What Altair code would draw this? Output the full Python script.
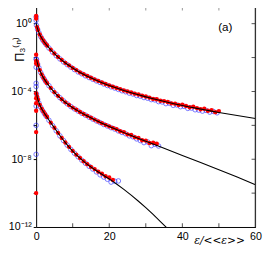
import altair as alt
import pandas as pd

# ---------- data (y stored as log10 values) ----------
# points sitting on the epsilon = 0 column
red0_log = [0.46, 0.3, -1.83, -2.2, -2.35, -4.11, -4.4, -4.69, -5.14, -6.4, -10.0]
blue0_log = [0.4, 0.2, -2.1, -2.57, -3.52, -3.71, -4.86, -6.0, -7.71]

# curve 1 (top)
red1_x = [0.25, 0.5, 1, 1.5, 2, 2.5, 3, 4, 5, 6, 7, 8, 9, 10, 11, 12, 13, 14, 15, 16, 17, 18,
          19, 20, 21, 22, 23, 24, 25, 26, 27, 28, 29, 30, 31, 32, 33, 34, 35, 36, 37, 38, 39,
          40, 41, 42, 43, 44, 45, 46, 47, 48, 49, 50]
red1_log = [-0.2, -0.37, -0.64, -0.84, -1.01, -1.16, -1.29, -1.54, -1.76, -1.96, -2.14, -2.31,
            -2.46, -2.61, -2.74, -2.87, -2.98, -3.09, -3.19, -3.29, -3.38, -3.47, -3.56, -3.64,
            -3.72, -3.79, -3.86, -3.94, -4.0, -4.06, -4.13, -4.18, -4.25, -4.3, -4.36, -4.44,
            -4.46, -4.55, -4.57, -4.62, -4.7, -4.72, -4.8, -4.78, -4.86, -4.93, -4.9, -4.98,
            -5.05, -5.02, -5.14, -5.1, -5.22, -5.16]
blue1_x = [0.1, 0.4, 0.75, 1.25, 1.75, 2.25, 2.75, 3.5, 4.5, 5.5, 6.5, 7.5, 8.5, 9.5, 10.5, 11.5,
           12.5, 13.5, 14.5, 15.5, 16.5, 17.5, 18.5, 19.5, 20.5, 21.5, 22.5, 23.5, 24.5, 25.5,
           26.5, 27.5, 28.5, 29.5, 30.5, 31.5, 32.5, 33.5, 34.5, 35.5, 36.5, 37.5, 38.5, 39.5,
           40.5, 41.5, 42.5, 43.5, 44.5, 45.5, 46.5, 47.5, 48.5, 49.5]
blue1_log = [-0.1, -0.33, -0.53, -0.76, -0.95, -1.1, -1.24, -1.44, -1.68, -1.89, -2.08, -2.26,
             -2.42, -2.57, -2.71, -2.85, -2.96, -3.08, -3.18, -3.28, -3.38, -3.47, -3.56, -3.65,
             -3.73, -3.8, -3.88, -3.96, -4.02, -4.1, -4.15, -4.24, -4.28, -4.36, -4.4, -4.48,
             -4.5, -4.6, -4.62, -4.72, -4.7, -4.82, -4.8, -4.9, -4.88, -5.0, -4.98, -5.08,
             -5.1, -5.16, -5.12, -5.22, -5.18, -5.26]

# curve 2 (middle)
red2_x = [0.25, 0.5, 1, 1.5, 2, 2.5, 3, 4, 5, 6, 7, 8, 9, 10, 11, 12, 13, 14, 15, 16, 17, 18,
          19, 20, 21, 22, 23, 24, 25, 26, 27, 28, 29, 30, 31, 32, 33]
red2_log = [-2.24, -2.44, -2.74, -2.99, -3.19, -3.37, -3.51, -3.79, -4.04, -4.26, -4.46, -4.64,
            -4.8, -4.95, -5.08, -5.21, -5.33, -5.44, -5.55, -5.66, -5.77, -5.87, -5.97, -6.06,
            -6.15, -6.23, -6.35, -6.4, -6.53, -6.57, -6.7, -6.74, -6.88, -6.9, -7.04, -7.02,
            -7.08]
blue2_x = [0.1, 0.4, 0.75, 1.25, 1.75, 2.25, 2.75, 3.5, 4.5, 5.5, 6.5, 7.5, 8.5, 9.5, 10.5, 11.5,
           12.5, 13.5, 14.5, 15.5, 16.5, 17.5, 18.5, 19.5, 20.5, 21.5, 22.5, 23.5, 24.5, 25.5,
           26.5, 27.5, 28.5, 29.5, 30.5, 31.5, 32.5, 33.5]
blue2_log = [-2.1, -2.38, -2.6, -2.88, -3.1, -3.28, -3.45, -3.66, -3.93, -4.16, -4.37, -4.56,
             -4.73, -4.89, -5.03, -5.16, -5.29, -5.4, -5.52, -5.63, -5.74, -5.84, -5.95, -6.04,
             -6.14, -6.22, -6.33, -6.42, -6.5, -6.62, -6.68, -6.8, -6.9, -7.02, -6.98, -7.2,
             -7.12, -7.22]

# curve 3 (bottom)
red3_x = [0.25, 0.5, 1, 1.5, 2, 2.5, 3, 4, 5, 6, 7, 8, 9, 10, 11, 12, 13, 14, 15, 16, 17, 18,
          19, 20, 21]
red3_log = [-4.29, -4.49, -4.79, -5.01, -5.19, -5.36, -5.51, -5.84, -6.14, -6.44, -6.74, -7.01,
            -7.27, -7.51, -7.73, -7.93, -8.12, -8.29, -8.45, -8.58, -8.73, -8.85, -9.0, -9.08,
            -9.22]
blue3_x = [0.1, 0.4, 0.75, 1.25, 1.75, 2.25, 2.75, 3.5, 4.5, 5.5, 6.5, 7.5, 8.5, 9.5, 10.5, 11.5,
           12.5, 13.5, 14.5, 15.5, 16.5, 17.5, 18.5, 19.5, 20.5, 21.5, 22.5]
blue3_log = [-4.15, -4.45, -4.68, -4.93, -5.13, -5.3, -5.46, -5.7, -6.02, -6.32, -6.62, -6.9,
             -7.17, -7.42, -7.65, -7.86, -8.06, -8.24, -8.42, -8.58, -8.75, -8.92, -9.05,
             -9.18, -9.35, -9.3, -9.28]

# fitted black curves
fit1_x = [0, 0.25, 0.5, 1, 1.5, 2, 3, 4, 5, 6, 7, 8, 9, 10, 12, 14, 16, 18, 20, 22, 24, 26, 28,
          30, 32, 34, 36, 38, 40, 42, 44, 46, 48, 50, 55, 60]
fit1_log = [0, -0.2, -0.38, -0.65, -0.85, -1.02, -1.3, -1.55, -1.77, -1.97, -2.15, -2.32, -2.47,
            -2.62, -2.88, -3.1, -3.3, -3.48, -3.65, -3.8, -3.95, -4.08, -4.2, -4.32, -4.43,
            -4.54, -4.64, -4.74, -4.83, -4.92, -5.0, -5.08, -5.16, -5.24, -5.42, -5.6]
fit2_x = [0, 0.25, 0.5, 1, 1.5, 2, 3, 4, 5, 6, 7, 8, 9, 10, 12, 14, 16, 18, 20, 22, 24, 26, 28,
          30, 32, 35, 40, 45, 50, 55, 60]
fit2_log = [-2.0, -2.25, -2.45, -2.75, -3.0, -3.2, -3.52, -3.8, -4.05, -4.27, -4.47, -4.65,
            -4.81, -4.96, -5.22, -5.45, -5.67, -5.88, -6.07, -6.25, -6.43, -6.6, -6.77, -6.94,
            -7.1, -7.35, -7.78, -8.2, -8.62, -9.05, -9.5]
fit3_x = [0, 0.25, 0.5, 1, 1.5, 2, 2.5, 3, 4, 5, 6, 7, 8, 9, 10, 11, 12, 13, 14, 15, 16, 17, 18,
          19, 20, 21, 22, 24, 26, 28, 30, 32, 34, 36]
fit3_log = [-4.0, -4.3, -4.5, -4.8, -5.02, -5.2, -5.37, -5.52, -5.85, -6.15, -6.45, -6.75, -7.02,
            -7.28, -7.52, -7.74, -7.94, -8.13, -8.3, -8.46, -8.61, -8.75, -8.89, -9.03, -9.17,
            -9.31, -9.46, -9.78, -10.12, -10.48, -10.86, -11.26, -11.68, -12.1]

x_ticks = [0, 10, 20, 30, 40, 50, 60]
inner_x_ticks = [10, 20, 30, 40, 50]
y_ticks = [1e-12, 1e-10, 1e-8, 1e-6, 1e-4, 1e-2, 1]
inner_y_ticks = [1e-10, 1e-8, 1e-6, 1e-4, 1e-2, 1]

# ---------- tables ----------
def pts(xs, logs):
    return pd.DataFrame({"x": xs, "y": [10 ** v for v in logs]})

red = pd.concat([pts([0] * len(red0_log), red0_log), pts(red1_x, red1_log),
                 pts(red2_x, red2_log), pts(red3_x, red3_log)], ignore_index=True)
blue = pd.concat([pts([0] * len(blue0_log), blue0_log), pts(blue1_x, blue1_log),
                  pts(blue2_x, blue2_log), pts(blue3_x, blue3_log)], ignore_index=True)
fits = []
for k, (fx, fl) in enumerate([(fit1_x, fit1_log), (fit2_x, fit2_log), (fit3_x, fit3_log)]):
    d = pts(fx, fl)
    d["curve"] = k
    fits.append(d)
fit = pd.concat(fits, ignore_index=True)

W, H = 226, 227
xs = alt.Scale(domain=[0, 60], nice=False)
ys = alt.Scale(type="log", domain=[1e-12, 10], nice=False)

x_axis = alt.Axis(values=x_ticks, labelExpr="datum.value % 20 == 0 ? datum.label : ''",
                  ticks=False, grid=False, domainColor="black", labelFontSize=11,
                  labelFont="Liberation Sans", labelColor="black", labelPadding=4,
                  title=None, labelFlush=False)
y_axis = alt.Axis(values=y_ticks,
                  labelExpr="round(log(datum.value)/LN10) == 0 ? '10⁰' : "
                            "round(log(datum.value)/LN10) == -4 ? '10⁻⁴' : "
                            "round(log(datum.value)/LN10) == -8 ? '10⁻⁸' : "
                            "round(log(datum.value)/LN10) == -12 ? '10⁻¹²' : ''",
                  tickSize=3, tickColor="black", grid=False, domainColor="black",
                  labelFontSize=11, labelFont="Liberation Sans", labelColor="black",
                  labelPadding=2, title=None, labelFlush=False)

X = alt.X("x:Q", scale=xs, axis=x_axis)
Y = alt.Y("y:Q", scale=ys, axis=y_axis)

blue_layer = alt.Chart(blue).mark_point(shape="circle", filled=False, size=22,
                                        color="#2b2bff", strokeWidth=0.9).encode(x=X, y=Y)
red_layer = alt.Chart(red).mark_circle(size=20, color="#ff0000", opacity=1).encode(x=X, y=Y)
line_layer = alt.Chart(fit).mark_line(color="black", strokeWidth=1.1, clip=True).encode(
    x=X, y=Y, detail="curve:N", order="x:Q")

tx = pd.DataFrame({"x": inner_x_ticks})
ty = pd.DataFrame({"y": inner_y_ticks})
bottom_ticks = alt.Chart(tx).mark_tick(orient="vertical", size=4, thickness=1,
                                       color="black").encode(x=alt.X("x:Q", scale=xs),
                                                             y=alt.value(H - 2))
top_ticks = alt.Chart(tx).mark_tick(orient="vertical", size=4, thickness=1,
                                    color="#666").encode(x=alt.X("x:Q", scale=xs),
                                                         y=alt.value(2))
right_ticks = alt.Chart(ty).mark_tick(orient="horizontal", size=4, thickness=1,
                                      color="black").encode(y=alt.Y("y:Q", scale=ys),
                                                            x=alt.value(W - 2))
right_border = alt.Chart(tx).mark_rule(color="#333", strokeWidth=1).encode(
    x=alt.value(W), y=alt.value(0), y2=alt.value(H))

lbl = pd.DataFrame({"t": ["(a)"]})
a_text = alt.Chart(lbl).mark_text(fontSize=12, font="Liberation Sans", color="black").encode(
    x=alt.value(195), y=alt.value(21), text="t:N")
xt = pd.DataFrame({"t": ["ε/<<ε>>"]})
x_title = alt.Chart(xt).mark_text(fontSize=11, font="DejaVu Serif", fontStyle="italic",
                                  color="black").encode(x=alt.value(189), y=alt.value(241),
                                                        text="t:N")
yt = pd.DataFrame({"t": ["Π₃⁽ⁿ⁾"]})
y_title = alt.Chart(yt).mark_text(fontSize=13, font="Liberation Sans", angle=270,
                                  color="black").encode(x=alt.value(-16), y=alt.value(44),
                                                        text="t:N")

chart = alt.layer(blue_layer, red_layer, line_layer, bottom_ticks, top_ticks, right_ticks,
                  right_border, a_text, x_title, y_title).properties(
    width=W, height=H,
    autosize=alt.AutoSizeParams(type="none"),
    padding={"left": 29, "top": -5, "right": 15, "bottom": 20},
).configure_view(stroke="#999", strokeWidth=1).configure(background="white")

chart.save("out.html", embed_options={"renderer": "svg", "actions": False})
